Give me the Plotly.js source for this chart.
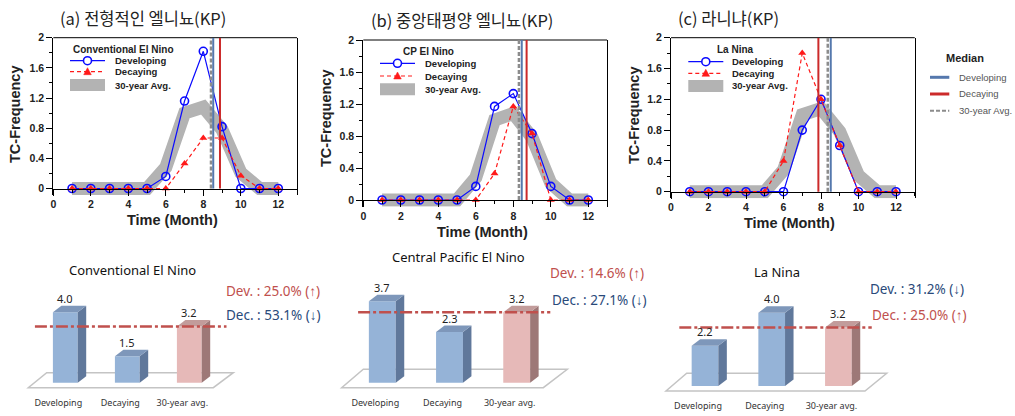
<!DOCTYPE html>
<html><head><meta charset="utf-8">
<script src="https://cdn.plot.ly/plotly-3.0.1.min.js"></script>
<style>html,body{margin:0;padding:0;background:#fff}#chart{width:1015px;height:416px}</style>
</head><body><div id="chart"></div>
<script>
// ---------------- DATA ----------------
const months = [1,2,3,4,5,6,7,8,9,10,11,12];
const avg30yr      = [0,0,0,0,0,0.28,1.0,1.08,0.78,0.21,0,0];
const ceDeveloping = [0,0,0,0,0,0.16,1.16,1.82,0.82,0,0,0];
const ceDecaying   = [0,0,0,0,0,0,0.33,0.67,0.67,0.17,0,0];
const cpDeveloping = [0,0,0,0,0,0.17,1.17,1.33,0.83,0.17,0,0];
const cpDecaying   = [0,0,0,0,0,0,0.33,1.17,0.83,0,0,0];
const lnDeveloping = [0,0,0,0,0,0,0.8,1.2,0.6,0,0,0];
const lnDecaying   = [0,0,0,0,0,0.4,1.8,1.2,0.6,0,0,0];
const medianDeveloping = [8.53, 8.45, 8.52];
const medianDecaying   = [8.89, 8.71, 7.86];
const median30yr       = [8.41, 8.30, 8.36];
const panelTitles  = ['(a) 전형적인 엘니뇨(KP)', '(b) 중앙태평양 엘니뇨(KP)', '(c) 라니냐(KP)'];
const legendTitles = ['Conventional El Nino', 'CP El Nino', 'La Nina'];
const seriesNames  = ['Developing', 'Decaying', '30-year Avg.'];
const yTitle = 'TC-Frequency';
const xTitle = 'Time (Month)';
const medianTitle = 'Median';

const barCategories = ['Developing', 'Decaying', '30-year avg.'];
const barTitles = ['Conventional El Nino', 'Central Pacific El Nino', 'La Nina'];
const ceBars = [4.0, 1.5, 3.2];
const cpBars = [3.7, 2.3, 3.2];
const lnBars = [2.2, 4.0, 3.2];
const devChange = ['25.0% (↑)', '14.6% (↑)', '31.2% (↓)'];
const decChange = ['53.1% (↓)', '27.1% (↓)', '25.0% (↑)'];

// ---------------- LAYOUT GEOMETRY (pixels) ----------------
const W = 1015, H = 416;
const px = x => x / W;
const py = y => 1 - y / H;

const topGeo = [
  {left:53.3, zero:188.5, top:37.7, leg:{x:70, rows:[60.7,71.7,85], textX:113.3, titleX:123, titleY:49},
   title:{x:142.5,y:18}, ytitle:{x:15,y:114}, xtitle:{x:172.5,y:220}},
  {left:363.3, zero:200, top:40, leg:{x:380, rows:[63.3,76,89.3], textX:423.3, titleX:428.3, titleY:51.7},
   title:{x:461.7,y:20}, ytitle:{x:326,y:118}, xtitle:{x:482.5,y:232}},
  {left:671, zero:191.7, top:37.7, leg:{x:688.3, rows:[61.7,73.3,86], textX:730, titleX:735.8, titleY:49},
   title:{x:728.3,y:18}, ytitle:{x:634,y:115}, xtitle:{x:789.2,y:223}}
];
const barGeo = [
  {c0:65.3, pitch:62, base:382.7, ppu:17.6, xl:15, xr:250, yt:285, yb:396,
   floor:[[28.3,387.7],[213.3,387.7],[233.3,372.7],[46.7,372.7]], dashX:[-0.49,2.6],
   title:{x:132.5,y:270}, dev:{x:224,y:290.7}, dec:{x:224,y:315}},
  {c0:382.3, pitch:67.2, base:382.7, ppu:22, xl:335, xr:580, yt:280, yb:396,
   floor:[[341.7,387.7],[543.3,387.7],[567.3,369.3],[363.3,369.3]], dashX:[-0.36,2.5],
   title:{x:458.3,y:257.3}, dev:{x:548.3,y:273.3}, dec:{x:550,y:300}},
  {c0:705, pitch:66.7, base:386, ppu:18.3, xl:660, xr:900, yt:285, yb:399,
   floor:[[666,391],[865,391],[886.7,373.3],[686.7,373.3]], dashX:[-0.385,2.5],
   title:{x:776.7,y:271.7}, dev:{x:868.3,y:289.3}, dec:{x:870,y:315}}
];

const XMAX = 13, YMIN = -0.085, YMAX = 2, XPPU = 18.75;
const BLUE = '#0a0aff', RED = '#ff1a1a', BAND = '#b3b3b3';
const MED_DEV = '#5578ad', MED_DEC = '#cc2a2a', MED_AVG = '#8c8c8c';
const TXT_RED = '#c0504d', TXT_BLUE = '#2a4a7a';
const SANS = 'Liberation Sans, Arial, sans-serif';
const NOTO = 'Noto Sans, Liberation Sans, sans-serif';
const KR = 'Noto Sans CJK KR, Noto Sans, sans-serif';

const traces = [], shapes = [], annotations = [];
const layout = {
  width: W, height: H, margin: {l:0, r:0, t:0, b:0}, showlegend: false,
  paper_bgcolor: '#fff', plot_bgcolor: 'rgba(0,0,0,0)',
  font: {family: SANS, color: '#222'}, shapes, annotations
};

function ann(text, x, y, o) {
  annotations.push(Object.assign({xref:'paper', yref:'paper', x:px(x), y:py(y), text, showarrow:false,
    xanchor:'center', yanchor:'middle'}, o || {}));
}
function hline(x0, x1, y, color, width, dash) {
  shapes.push({type:'line', xref:'paper', yref:'paper', x0:px(x0), x1:px(x1), y0:py(y), y1:py(y),
    line:{color, width, dash: dash || 'solid'}});
}

// ---------------- TOP PANELS ----------------
const topData = [[ceDeveloping, ceDecaying], [cpDeveloping, cpDecaying], [lnDeveloping, lnDecaying]];
const tickFont = {family: SANS, size: 10.5, color: '#222', weight: 'bold'};

topGeo.forEach((g, k) => {
  const n = k === 0 ? '' : String(k + 1);
  const xa = 'x' + n, ya = 'y' + n;
  const scale = (g.zero - g.top) / YMAX;
  const bottom = g.zero - YMIN * scale;
  layout['xaxis' + n] = {
    domain: [px(g.left), px(g.left + XMAX * XPPU)], range: [0, XMAX],
    anchor: 'free', position: py(g.zero),
    showline: true, linecolor: '#000', linewidth: 1,
    ticks: 'outside', ticklen: 6, tickcolor: '#000', tick0: 0, dtick: 2,
    minor: {dtick: 1, ticks: 'outside', ticklen: 3, tickcolor: '#000'},
    showgrid: false, zeroline: false, tickfont: tickFont
  };
  layout['yaxis' + n] = {
    domain: [py(bottom), py(g.top)], range: [YMIN, YMAX], anchor: xa,
    showline: true, mirror: true, linecolor: '#000', linewidth: 1,
    ticks: 'outside', ticklen: 6, tickcolor: '#000', tick0: 0, dtick: 0.4,
    minor: {dtick: 0.2, ticks: 'outside', ticklen: 3, tickcolor: '#000'},
    showgrid: false, zeroline: false, tickfont: tickFont
  };
  // top border
  shapes.push({type:'line', xref: xa + ' domain', yref: ya + ' domain', x0:0, x1:1, y0:1, y1:1,
    line:{color:'#000', width:1}});

  const [dev, dec] = topData[k];
  traces.push({type:'scatter', mode:'lines', x: months, y: avg30yr, xaxis: xa, yaxis: ya,
    line:{color: BAND, width: 13}, name: seriesNames[2]});
  traces.push({type:'scatter', mode:'lines+markers', x: months, y: dev, xaxis: xa, yaxis: ya,
    line:{color: BLUE, width: 1.2}, marker:{symbol:'circle-open', size:8, color: BLUE, line:{width:1.6, color: BLUE}},
    name: seriesNames[0], cliponaxis:false});
  traces.push({type:'scatter', mode:'lines+markers', x: months, y: dec, xaxis: xa, yaxis: ya,
    line:{color: RED, width: 1.2, dash:'4px,3px'}, marker:{symbol:'triangle-up', size:7, color: RED},
    name: seriesNames[1], cliponaxis:false});

  // median lines
  const med = [[median30yr[k], MED_AVG, 2.5, '4px,2px'], [medianDeveloping[k], MED_DEV, 2, 'solid'], [medianDecaying[k], MED_DEC, 2, 'solid']];
  med.forEach(([v, c, w, d]) => shapes.push({type:'line', xref: xa, yref: ya, x0: v, x1: v, y0: 0, y1: YMAX,
    layer:'above', line:{color: c, width: w, dash: d}}));

  // inner legend
  const L = g.leg, len = 35, cx = L.x + len / 2;
  ann('<b>' + legendTitles[k] + '</b>', L.titleX, L.titleY, {font:{family: SANS, size: 10, color:'#222'}});
  hline(L.x, L.x + len, L.rows[0], BLUE, 1.2);
  shapes.push({type:'circle', xref:'paper', yref:'paper', x0:px(cx-4), x1:px(cx+4), y0:py(L.rows[0]+4), y1:py(L.rows[0]-4),
    fillcolor:'#fff', line:{color: BLUE, width: 1.6}});
  hline(L.x, L.x + len, L.rows[1], RED, 1.2, '4px,3px');
  const t = L.rows[1];
  shapes.push({type:'path', xref:'paper', yref:'paper',
    path:`M ${px(cx-3.8)} ${py(t+3)} L ${px(cx+3.8)} ${py(t+3)} L ${px(cx)} ${py(t-4)} Z`,
    fillcolor: RED, line:{color: RED, width: 0.5}});
  shapes.push({type:'rect', xref:'paper', yref:'paper', x0:px(L.x), x1:px(L.x+len), y0:py(L.rows[2]+6), y1:py(L.rows[2]-6),
    fillcolor: BAND, line:{width:0}});
  seriesNames.forEach((s, i) => ann('<b>' + s + '</b>', L.textX, L.rows[i],
    {xanchor:'left', font:{family: SANS, size: 9.5, color:'#222'}}));

  // titles
  ann(panelTitles[k], g.title.x, g.title.y, {font:{family: KR, size: 16.5, color:'#222'}});
  ann('<b>' + yTitle + '</b>', g.ytitle.x, g.ytitle.y, {textangle:-90, font:{family: SANS, size: 14.5, color:'#222'}});
  ann('<b>' + xTitle + '</b>', g.xtitle.x, g.xtitle.y, {font:{family: SANS, size: 14.5, color:'#222'}});
});

// median legend (right)
ann('<b>' + medianTitle + '</b>', 965, 58.3, {font:{family: SANS, size: 11, color:'#222'}});
const medRows = [77.3, 94, 110.7];
const medStyles = [[MED_DEV, 3, 'solid'], [MED_DEC, 3, 'solid'], [MED_AVG, 2, '4px,2px']];
medRows.forEach((y, i) => {
  hline(930, 949.3, y, medStyles[i][0], medStyles[i][1], medStyles[i][2]);
  ann(seriesNames[i], 956.7, y, {xanchor:'left', font:{family: SANS, size: 9.5, color:'#555'}});
});

// ---------------- BOTTOM 3D BAR CHARTS ----------------
const barSets = [ceBars, cpBars, lnBars];
const FRONT = ['#95b3d7', '#95b3d7', '#e6b9b8'];
const SIDE  = ['#60789b', '#60789b', '#9d7877'];
const TOP   = ['#7e97ba', '#7e97ba', '#c29c9b'];
const BAR_W = 0.4, DEPTH_X = 8.5, DEPTH_Y = 6.5, LABEL_SHIFT = 7;

barGeo.forEach((g, k) => {
  const n = String(k + 4);
  const xa = 'x' + n, ya = 'y' + n;
  layout['xaxis' + n] = {
    domain: [px(g.xl), px(g.xr)], range: [(g.xl - g.c0) / g.pitch, (g.xr - g.c0) / g.pitch], anchor: ya,
    showline: false, showgrid: false, zeroline: false, ticks: '',
    tickvals: barCategories.map((c, i) => i - LABEL_SHIFT / g.pitch), ticktext: barCategories,
    tickfont: {family: NOTO, size: 9, color: '#333'}
  };
  layout['yaxis' + n] = {
    domain: [py(g.yb), py(g.yt)], range: [(g.base - g.yb) / g.ppu, (g.base - g.yt) / g.ppu], anchor: xa,
    visible: false, showgrid: false, zeroline: false
  };
  // floor
  const f = g.floor;
  shapes.push({type:'path', xref:'paper', yref:'paper', layer:'below',
    path: 'M ' + f.map(p => px(p[0]) + ' ' + py(p[1])).join(' L ') + ' Z',
    fillcolor:'#fff', line:{color:'#c4c4c4', width:1.5}});

  const vals = barSets[k];
  const ddx = DEPTH_X / g.pitch, ddy = DEPTH_Y / g.ppu, hw = BAR_W / 2;
  traces.push({type:'bar', x: barCategories.map((c, i) => i), y: vals, width: BAR_W, xaxis: xa, yaxis: ya,
    marker:{color: FRONT, line:{width:0}}});
  vals.forEach((v, i) => {
    traces.push({type:'scatter', mode:'lines', xaxis: xa, yaxis: ya, fill:'toself', fillcolor: SIDE[i], line:{width:0, color: SIDE[i]},
      x:[i+hw, i+hw+ddx, i+hw+ddx, i+hw, i+hw], y:[0, ddy, v+ddy, v, 0]});
    traces.push({type:'scatter', mode:'lines', xaxis: xa, yaxis: ya, fill:'toself', fillcolor: TOP[i], line:{width:0, color: TOP[i]},
      x:[i-hw, i+hw, i+hw+ddx, i-hw+ddx, i-hw], y:[v, v, v+ddy, v+ddy, v]});
    annotations.push({xref: xa, yref: ya, x: i, y: v, yshift: 14, text: v.toFixed(1), showarrow: false,
      font:{family: NOTO, size: 11, color:'#222'}});
  });
  // 30-year average reference line
  traces.push({type:'scatter', mode:'lines', xaxis: xa, yaxis: ya, x: g.dashX, y: [vals[2], vals[2]],
    line:{color:'#c0504d', width: 2.5, dash:'12px,3px,3px,3px'}});

  ann(barTitles[k], g.title.x, g.title.y, {font:{family: NOTO, size: 13, color:'#111'}});
  const devTxt = 'Dev. : ' + devChange[k], decTxt = 'Dec. : ' + decChange[k];
  ann(devTxt, g.dev.x, g.dev.y, {xanchor:'left', font:{family: NOTO, size: 13.5, color: devChange[k].includes('↑') ? TXT_RED : TXT_BLUE}});
  ann(decTxt, g.dec.x, g.dec.y, {xanchor:'left', font:{family: NOTO, size: 13.5, color: decChange[k].includes('↑') ? TXT_RED : TXT_BLUE}});
});

Plotly.newPlot('chart', traces, layout, {staticPlot: true, displayModeBar: false});
</script>
</body></html>
